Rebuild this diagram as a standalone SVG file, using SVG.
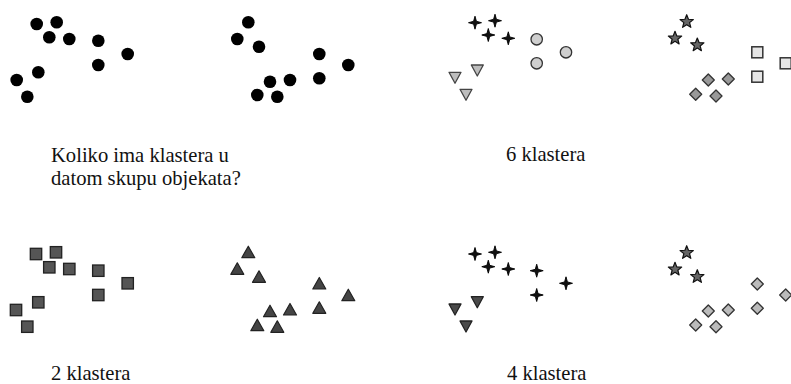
<svg xmlns="http://www.w3.org/2000/svg" xmlns:xlink="http://www.w3.org/1999/xlink" width="791" height="384" viewBox="0 0 791 384">
<style>
.lbl{font-family:"Liberation Serif","Times New Roman",serif;font-size:20.6px;fill:#111}
</style>
<defs>
<circle id="dot" r="6.3" fill="#000"/>
<path id="star4" d="M0,-6.5 L1.4,-1.4 L6.5,0 L1.4,1.4 L0,6.5 L-1.4,1.4 L-6.5,0 L-1.4,-1.4 Z" fill="#111" stroke="#000" stroke-width="0.9" stroke-linejoin="round"/>
<circle id="circ" r="5.7" fill="#cfcfcf" stroke="#333" stroke-width="1.3"/>
<path id="triDownLight" d="M-6,-5 L6,-5 L0,6 Z" fill="#bdbdbd" stroke="#444" stroke-width="1.3" stroke-linejoin="round"/>
<path id="triDownDark" d="M-6,-5 L6,-5 L0,6 Z" fill="#4a4a4a" stroke="#222" stroke-width="1.3" stroke-linejoin="round"/>
<path id="star5" d="M0,-7 L1.76,-2.43 L6.66,-2.16 L2.85,0.93 L4.11,5.66 L0,3 L-4.11,5.66 L-2.85,0.93 L-6.66,-2.16 L-1.76,-2.43 Z" fill="#666" stroke="#111" stroke-width="1.2" stroke-linejoin="round"/>
<rect id="sqLight" x="-5.5" y="-5.5" width="11" height="11" fill="#e6e6e6" stroke="#333" stroke-width="1.5"/>
<rect id="sqDark" x="-5.7" y="-5.7" width="11.4" height="11.4" fill="#555" stroke="#222" stroke-width="1.3"/>
<path id="diaMid" d="M0,-6 L6,0 L0,6 L-6,0 Z" fill="#999" stroke="#333" stroke-width="1.3" stroke-linejoin="round"/>
<path id="diaLight" d="M0,-6 L6,0 L0,6 L-6,0 Z" fill="#bbb" stroke="#333" stroke-width="1.3" stroke-linejoin="round"/>
<path id="triUp" d="M0,-6.5 L6.5,5 L-6.5,5 Z" fill="#444" stroke="#222" stroke-width="1.2" stroke-linejoin="round"/>
</defs>

<g id="panel-data">
<use id="d1" href="#dot" x="36.7" y="24"/>
<use id="d2" href="#dot" x="56.7" y="22.3"/>
<use id="d3" href="#dot" x="49.3" y="37.3"/>
<use id="d4" href="#dot" x="69.3" y="39"/>
<use id="d5" href="#dot" x="98.3" y="40.7"/>
<use id="d6" href="#dot" x="127.7" y="54"/>
<use id="d7" href="#dot" x="98.3" y="65"/>
<use id="d8" href="#dot" x="38.3" y="72.3"/>
<use id="d9" href="#dot" x="16.7" y="80"/>
<use id="d10" href="#dot" x="27.3" y="96.7"/>
</g>

<g id="panel-data2">
<use id="e1" href="#dot" x="248.3" y="22.3"/>
<use id="e2" href="#dot" x="237.3" y="39"/>
<use id="e3" href="#dot" x="259" y="46.7"/>
<use id="e4" href="#dot" x="319.3" y="54"/>
<use id="e5" href="#dot" x="348.3" y="65"/>
<use id="e6" href="#dot" x="319.3" y="78.3"/>
<use id="e7" href="#dot" x="270" y="81.7"/>
<use id="e8" href="#dot" x="290" y="80"/>
<use id="e9" href="#dot" x="257.3" y="95"/>
<use id="e10" href="#dot" x="277.3" y="96.7"/>
</g>

<g id="panel-6a">
<use id="f1" href="#star4" x="475" y="22.7"/>
<use id="f2" href="#star4" x="495" y="20.7"/>
<use id="f3" href="#star4" x="488.3" y="35"/>
<use id="f4" href="#star4" x="508.3" y="38.3"/>
<use id="f5" href="#circ" x="536.7" y="39.3"/>
<use id="f6" href="#circ" x="566" y="52.3"/>
<use id="f7" href="#circ" x="536.7" y="63.3"/>
<use id="f8" href="#triDownLight" x="477.3" y="70"/>
<use id="f9" href="#triDownLight" x="455" y="77.3"/>
<use id="f10" href="#triDownLight" x="466" y="94.3"/>
</g>

<g id="panel-6b">
<use id="g1" href="#star5" x="686.7" y="21.7"/>
<use id="g2" href="#star5" x="675" y="38.3"/>
<use id="g3" href="#star5" x="697.3" y="45"/>
<use id="g4" href="#sqLight" x="757.3" y="52.3"/>
<use id="g5" href="#sqLight" x="757.3" y="76.7"/>
<use id="g6" href="#sqLight" x="785.7" y="63.3"/>
<use id="g7" href="#diaMid" x="708.3" y="80"/>
<use id="g8" href="#diaMid" x="728.3" y="79"/>
<use id="g9" href="#diaMid" x="695.7" y="94.3"/>
<use id="g10" href="#diaMid" x="716" y="96"/>
</g>

<g id="panel-2a">
<use id="h1" href="#sqDark" x="36" y="254"/>
<use id="h2" href="#sqDark" x="56" y="252.3"/>
<use id="h3" href="#sqDark" x="49.3" y="267.3"/>
<use id="h4" href="#sqDark" x="69.3" y="269"/>
<use id="h5" href="#sqDark" x="98.3" y="270.7"/>
<use id="h6" href="#sqDark" x="127.7" y="283.3"/>
<use id="h7" href="#sqDark" x="98.3" y="295"/>
<use id="h8" href="#sqDark" x="38.3" y="302.3"/>
<use id="h9" href="#sqDark" x="16" y="310"/>
<use id="h10" href="#sqDark" x="27.3" y="326.7"/>
</g>

<g id="panel-2b">
<use id="i1" href="#triUp" x="248.3" y="252.7"/>
<use id="i2" href="#triUp" x="237.3" y="269.3"/>
<use id="i3" href="#triUp" x="259" y="277.3"/>
<use id="i4" href="#triUp" x="319.3" y="284"/>
<use id="i5" href="#triUp" x="348.3" y="295.7"/>
<use id="i6" href="#triUp" x="319.3" y="308.3"/>
<use id="i7" href="#triUp" x="270" y="311.7"/>
<use id="i8" href="#triUp" x="290" y="310"/>
<use id="i9" href="#triUp" x="257.3" y="325.7"/>
<use id="i10" href="#triUp" x="277.3" y="327.3"/>
</g>

<g id="panel-4a">
<use id="j1" href="#star4" x="475" y="254"/>
<use id="j2" href="#star4" x="495" y="252.3"/>
<use id="j3" href="#star4" x="488.3" y="266.7"/>
<use id="j4" href="#star4" x="508.3" y="269"/>
<use id="j5" href="#star4" x="536.7" y="270.7"/>
<use id="j6" href="#star4" x="566" y="283.3"/>
<use id="j7" href="#star4" x="536.7" y="295"/>
<use id="j8" href="#triDownDark" x="477.3" y="301.7"/>
<use id="j9" href="#triDownDark" x="455" y="309"/>
<use id="j10" href="#triDownDark" x="466" y="326"/>
</g>

<g id="panel-4b">
<use id="k1" href="#star5" x="686.7" y="252.7"/>
<use id="k2" href="#star5" x="675" y="269.3"/>
<use id="k3" href="#star5" x="697.3" y="276.7"/>
<use id="k4" href="#diaLight" x="757.3" y="284"/>
<use id="k5" href="#diaLight" x="757.3" y="308.3"/>
<use id="k6" href="#diaLight" x="785.7" y="295"/>
<use id="k7" href="#diaLight" x="708.3" y="311"/>
<use id="k8" href="#diaLight" x="728.3" y="310"/>
<use id="k9" href="#diaLight" x="695.7" y="325"/>
<use id="k10" href="#diaLight" x="716" y="326.7"/>
</g>

<g id="labels">
<text class="lbl" x="51" y="162">Koliko ima klastera u</text>
<text class="lbl" x="51" y="185">datom skupu objekata?</text>
<text class="lbl" x="506" y="161">6 klastera</text>
<text class="lbl" x="51" y="380">2 klastera</text>
<text class="lbl" x="507" y="380">4 klastera</text>
</g>
</svg>
